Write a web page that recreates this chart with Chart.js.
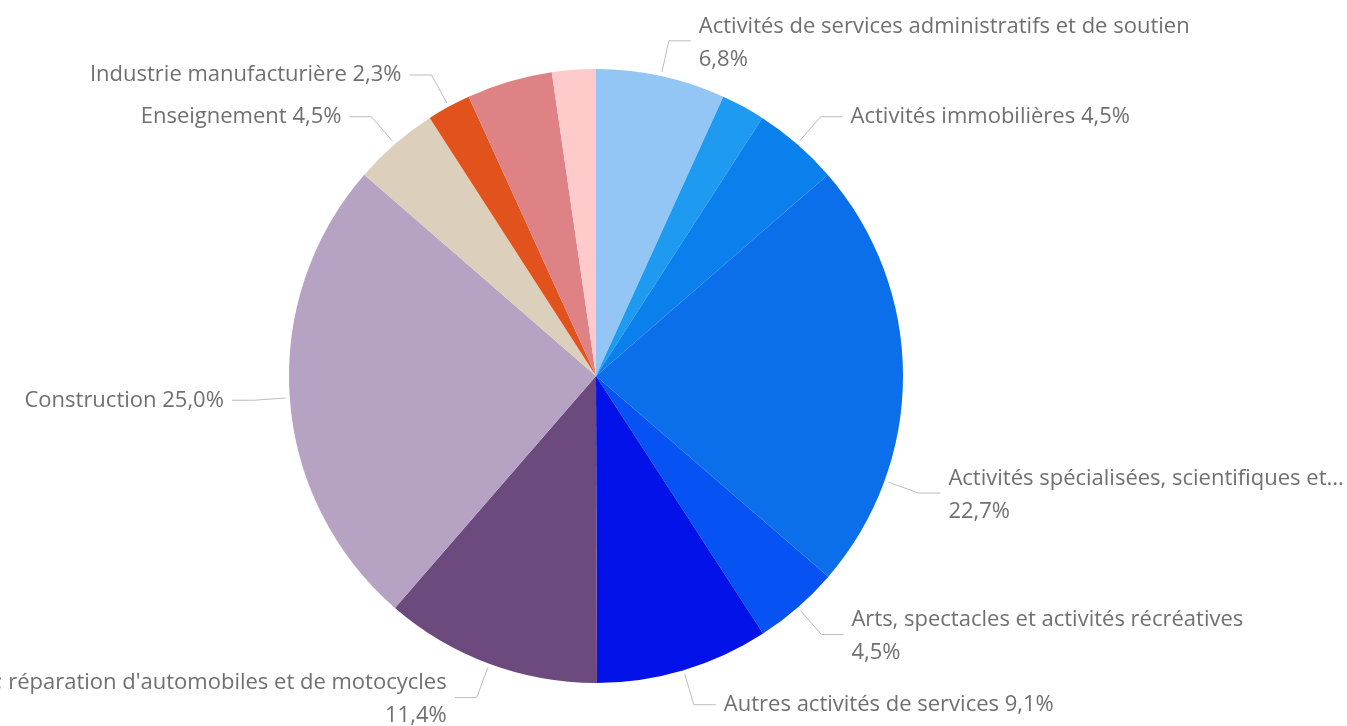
<!DOCTYPE html>
<html>
<head>
<meta charset="utf-8">
<script src="https://cdn.jsdelivr.net/npm/chart.js@4/dist/chart.umd.min.js"></script>
<style>
  html, body { margin: 0; padding: 0; background: #ffffff; }
  #wrap { width: 1347px; height: 726px; position: relative; }
</style>
</head>
<body>
<div id="wrap"><canvas id="c" width="1347" height="726"></canvas></div>
<script>
// ---- data ----
const categories = [
  "Activités de services administratifs et de soutien",
  "Activités financières et d'assurance",
  "Activités immobilières",
  "Activités spécialisées, scientifiques et techniques",
  "Arts, spectacles et activités récréatives",
  "Autres activités de services",
  "Commerce ; réparation d'automobiles et de motocycles",
  "Construction",
  "Enseignement",
  "Industrie manufacturière",
  "Information et communication",
  "Transports et entreposage"
];
const shares = [6.8, 2.3, 4.5, 22.7, 4.5, 9.1, 11.4, 25.0, 4.5, 2.3, 4.5, 2.3];
const sliceColors = [
  "#93C6F4", "#1E9BF0", "#0A80EC", "#0B6EEA", "#0652F2", "#0212E8",
  "#6C4A7E", "#B6A2C2", "#DCD0BC", "#E2521C", "#DE8286", "#FFCACA"
];

// ---- label plugin (positions derived from the arc elements) ----
const FONT = '22px "Open Sans", "Noto Sans", sans-serif';
const fmt = v => v.toFixed(1).replace('.', ',') + '%';

const outsideLabels = {
  id: 'outsideLabels',
  afterDatasetsDraw(chart, args, opts) {
    const ctx = chart.ctx;
    const meta = chart.getDatasetMeta(0);
    const vals = chart.data.datasets[0].data;
    const names = chart.data.labels;
    ctx.save();
    ctx.font = FONT;
    ctx.textBaseline = 'middle';
    meta.data.forEach((arc, i) => {
      if (opts.hidden.includes(i)) return;
      const { x, y, startAngle, endAngle, outerRadius } = arc.getProps(['x','y','startAngle','endAngle','outerRadius'], true);
      const f = opts.anchorFraction[i] !== undefined ? opts.anchorFraction[i] : 0.5;
      const a = startAngle + (endAngle - startAngle) * f;
      const cos = Math.cos(a), sin = Math.sin(a);
      const p0 = { x: x + cos * (outerRadius + opts.gap), y: y + sin * (outerRadius + opts.gap) };
      const p1 = { x: x + cos * (outerRadius + opts.gap + opts.radial), y: y + sin * (outerRadius + opts.gap + opts.radial) };
      const right = cos >= 0;
      const dir = right ? 1 : -1;
      const p2 = { x: p1.x + dir * opts.horizontal, y: p1.y };
      ctx.strokeStyle = opts.lineColor;
      ctx.lineWidth = 1;
      ctx.beginPath();
      ctx.moveTo(p0.x, p0.y); ctx.lineTo(p1.x, p1.y); ctx.lineTo(p2.x, p2.y);
      ctx.stroke();

      const tx = p2.x + dir * opts.textGap;
      const name = names[i];
      const pct = fmt(vals[i]);
      const one = name + ' ' + pct;
      ctx.fillStyle = opts.textColor;
      ctx.textAlign = right ? 'left' : 'right';
      if (ctx.measureText(one).width <= opts.maxSingle) {
        ctx.fillText(one, tx, p1.y);
      } else {
        let line = name;
        if (right) {
          const avail = chart.width - tx - 2;
          if (ctx.measureText(line).width > avail) {
            while (line.length > 1 && ctx.measureText(line + '...').width > avail) line = line.slice(0, -1);
            line = line + '...';
          }
        }
        const lh = opts.lineHeight;
        ctx.fillText(line, tx, p1.y - lh / 2 + 2);
        ctx.fillText(pct, tx, p1.y + lh / 2 + 2);
      }
    });
    ctx.restore();
  }
};

new Chart(document.getElementById('c'), {
  type: 'pie',
  data: {
    labels: categories,
    datasets: [{
      data: shares,
      backgroundColor: sliceColors,
      borderWidth: 0,
      hoverOffset: 0
    }]
  },
  options: {
    responsive: false,
    animation: false,
    events: [],
    layout: { padding: { left: 289, right: 444, top: 69, bottom: 43 } },
    plugins: {
      legend: { display: false },
      tooltip: { enabled: false },
      outsideLabels: {
        hidden: [1, 10, 11],
        anchorFraction: { 3: 0.745 },
        gap: 4,
        radial: 32,
        horizontal: 22,
        textGap: 8,
        maxSingle: 400,
        lineHeight: 33,
        lineColor: '#BDBDBD',
        textColor: '#707070'
      }
    }
  },
  plugins: [outsideLabels]
});
</script>
</body>
</html>
